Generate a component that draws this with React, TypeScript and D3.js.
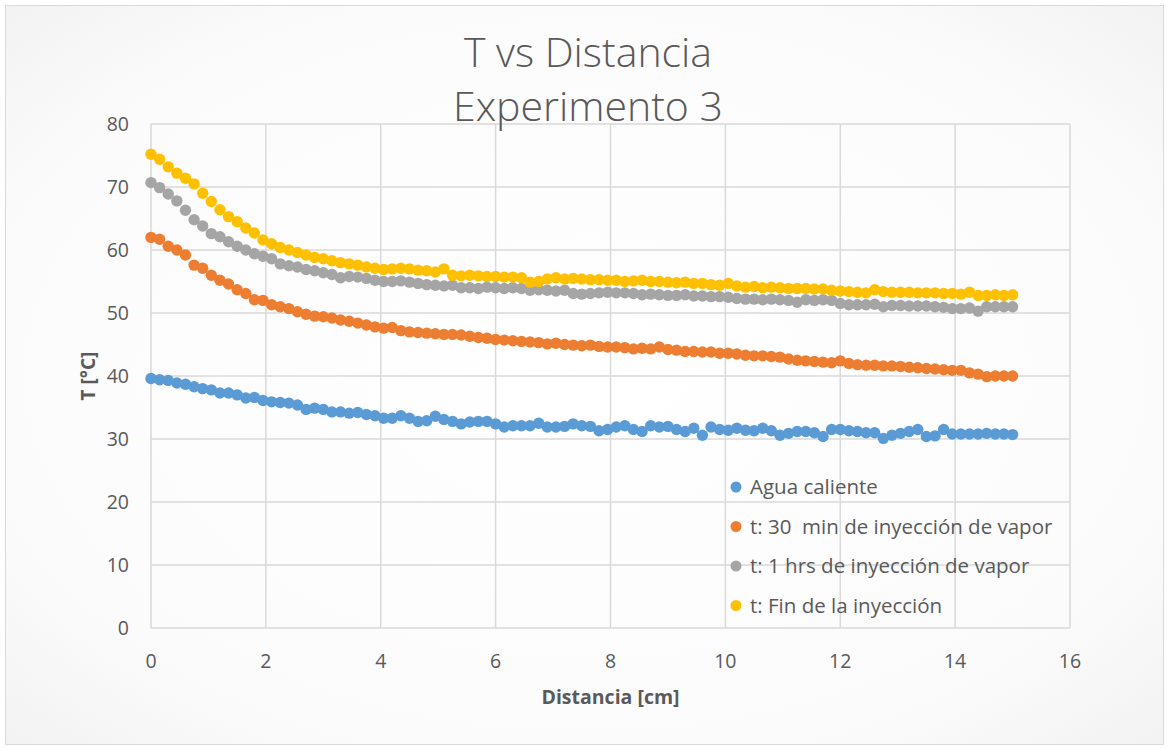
import React from "react";
import * as d3 from "d3";

// Distance samples along the column (cm), every 0.15 cm from 0 to 15
const distancia: number[] = d3.range(0, 101).map((i) => +(i * 0.15).toFixed(2));

const aguaCaliente: number[] = [
  39.6, 39.4, 39.3, 38.9, 38.7, 38.3, 38.0, 37.8, 37.3, 37.3,
  37.0, 36.5, 36.6, 36.1, 35.9, 35.8, 35.7, 35.4, 34.7, 34.9,
  34.7, 34.3, 34.3, 34.1, 34.2, 33.9, 33.7, 33.3, 33.3, 33.7,
  33.3, 32.8, 32.9, 33.6, 33.1, 32.8, 32.4, 32.7, 32.8, 32.8,
  32.4, 31.9, 32.1, 32.1, 32.1, 32.5, 31.9, 31.9, 32.0, 32.4,
  32.1, 32.0, 31.3, 31.5, 31.9, 32.1, 31.5, 31.2, 32.1, 31.9,
  32.0, 31.5, 31.2, 31.7, 30.6, 31.9, 31.5, 31.4, 31.7, 31.4,
  31.3, 31.7, 31.3, 30.6, 30.9, 31.2, 31.2, 31.0, 30.4, 31.5,
  31.5, 31.3, 31.2, 31.0, 31.0, 30.1, 30.6, 30.9, 31.2, 31.5,
  30.4, 30.5, 31.5, 30.8, 30.8, 30.8, 30.8, 30.9, 30.8, 30.8,
  30.7,
];

const min30: number[] = [
  62.0, 61.7, 60.6, 60.0, 59.2, 57.6, 57.1, 56.0, 55.2, 54.6,
  53.7, 53.1, 52.1, 52.0, 51.3, 51.0, 50.7, 50.2, 49.8, 49.5,
  49.4, 49.2, 48.9, 48.7, 48.4, 48.1, 47.8, 47.6, 47.7, 47.2,
  47.0, 46.9, 46.8, 46.7, 46.6, 46.6, 46.5, 46.3, 46.1, 46.0,
  45.8, 45.7, 45.6, 45.5, 45.4, 45.3, 45.1, 45.2, 45.0, 44.9,
  44.8, 44.9, 44.7, 44.6, 44.6, 44.5, 44.3, 44.4, 44.3, 44.6,
  44.2, 44.1, 43.9, 43.9, 43.8, 43.8, 43.6, 43.6, 43.5, 43.3,
  43.2, 43.2, 43.1, 43.0, 42.7, 42.5, 42.4, 42.3, 42.2, 42.1,
  42.4, 42.0, 41.8, 41.7, 41.7, 41.6, 41.6, 41.5, 41.4, 41.3,
  41.2, 41.1, 41.0, 40.9, 40.9, 40.5, 40.3, 39.9, 40.0, 40.0,
  40.0,
];

const hrs1: number[] = [
  70.7, 69.9, 68.9, 67.8, 66.3, 64.8, 63.8, 62.6, 62.1, 61.3,
  60.6, 60.0, 59.4, 59.0, 58.6, 57.8, 57.5, 57.3, 56.9, 56.7,
  56.4, 56.1, 55.6, 55.8, 55.7, 55.5, 55.2, 55.0, 55.0, 55.1,
  54.9, 54.7, 54.5, 54.4, 54.3, 54.4, 54.0, 54.0, 53.9, 54.1,
  54.0, 53.9, 54.0, 53.9, 53.6, 53.7, 53.6, 53.5, 53.6, 53.1,
  53.0, 53.1, 53.2, 53.3, 53.2, 53.2, 53.1, 52.9, 53.0, 52.9,
  52.8, 52.8, 52.9, 52.7, 52.7, 52.6, 52.6, 52.5, 52.3, 52.2,
  52.2, 52.1, 52.2, 52.1, 52.0, 51.7, 52.1, 52.0, 52.1, 52.0,
  51.5, 51.3, 51.3, 51.3, 51.4, 51.0, 51.2, 51.2, 51.1, 51.1,
  51.1, 51.0, 50.9, 50.7, 50.7, 50.8, 50.3, 51.0, 51.0, 51.0,
  51.0,
];

const finInyeccion: number[] = [
  75.2, 74.4, 73.2, 72.2, 71.4, 70.5, 69.0, 67.7, 66.4, 65.3,
  64.5, 63.5, 62.7, 61.6, 61.0, 60.4, 60.0, 59.6, 59.2, 58.8,
  58.6, 58.3, 58.0, 57.8, 57.6, 57.3, 57.1, 56.9, 57.0, 57.1,
  57.0, 56.8, 56.7, 56.5, 57.0, 56.0, 55.9, 56.0, 55.9, 55.8,
  55.8, 55.7, 55.7, 55.6, 54.9, 55.0, 55.4, 55.6, 55.4, 55.5,
  55.4, 55.3, 55.3, 55.2, 55.2, 55.0, 55.1, 55.2, 55.0, 55.0,
  54.9, 54.8, 54.9, 54.7, 54.7, 54.5, 54.4, 54.7, 54.3, 54.1,
  54.2, 54.0, 54.1, 54.0, 53.9, 53.9, 53.9, 53.8, 53.8, 53.6,
  53.5, 53.4, 53.3, 53.2, 53.7, 53.4, 53.3, 53.3, 53.3, 53.2,
  53.2, 53.2, 53.1, 53.1, 53.0, 53.3, 52.8, 52.8, 52.9, 52.8,
  52.9,
];

const seriesNames: string[] = [
  "Agua caliente",
  "t: 30  min de inyección de vapor",
  "t: 1 hrs de inyección de vapor",
  "t: Fin de la inyección",
];
const seriesColors: string[] = ["#5b9bd5", "#ed7d31", "#a5a5a5", "#ffc000"];
const seriesValues: number[][] = [aguaCaliente, min30, hrs1, finInyeccion];

const xTicks: number[] = [0, 2, 4, 6, 8, 10, 12, 14, 16];
const yTicks: number[] = [0, 10, 20, 30, 40, 50, 60, 70, 80];

const W = 1167;
const H = 748;
const plot = { left: 151, right: 1070, top: 124, bottom: 628 };
const FONT = "'Open Sans', 'Liberation Sans', sans-serif";
const TEXT = "#595959";
const GRID = "#d9d9d9";
const R = 5.7;

export default function App() {
  const x = d3.scaleLinear().domain([0, 16]).range([plot.left, plot.right]);
  const y = d3.scaleLinear().domain([0, 80]).range([plot.bottom, plot.top]);

  const legendX = 736;
  const legendY0 = 487;
  const legendStep = 39.5;

  return (
    <svg
      width={W}
      height={H}
      style={{ position: "absolute", left: 0, top: 0, fontFamily: FONT }}
    >
      <defs>
        <radialGradient id="bg" cx="50%" cy="50%" r="75%">
          <stop offset="0%" stopColor="#ffffff" />
          <stop offset="70%" stopColor="#fbfbfb" />
          <stop offset="100%" stopColor="#f0f0f0" />
        </radialGradient>
      </defs>
      <rect x={0} y={0} width={W} height={H} fill="#ffffff" />
      <rect x={5.5} y={5.5} width={W - 9} height={H - 9} fill="url(#bg)" stroke="#d9d9d9" strokeWidth={1} />

      {/* gridlines */}
      {yTicks.map((t) => (
        <line key={"gy" + t} x1={plot.left} x2={plot.right} y1={y(t)} y2={y(t)} stroke={GRID} strokeWidth={1.5} />
      ))}
      {xTicks.map((t) => (
        <line key={"gx" + t} x1={x(t)} x2={x(t)} y1={plot.top} y2={plot.bottom} stroke={GRID} strokeWidth={1.5} />
      ))}

      {/* tick labels */}
      {yTicks.map((t) => (
        <text key={"ty" + t} x={plot.left - 22} y={y(t)} dy="0.35em" textAnchor="end" fontSize={19.5} fill={TEXT}>
          {t}
        </text>
      ))}
      {xTicks.map((t) => (
        <text key={"tx" + t} x={x(t)} y={plot.bottom + 40} textAnchor="middle" fontSize={19.5} fill={TEXT}>
          {t}
        </text>
      ))}

      {/* axis titles */}
      <text
        transform={`translate(95, ${(plot.top + plot.bottom) / 2}) rotate(-90)`}
        textAnchor="middle"
        fontSize={19}
        fontWeight="bold"
        fill={TEXT}
      >
        T [°C]
      </text>
      <text x={(plot.left + plot.right) / 2} y={704} textAnchor="middle" fontSize={19.5} fontWeight="bold" fill={TEXT}>
        Distancia [cm]
      </text>

      {/* title */}
      <text x={588} y={67} textAnchor="middle" fontSize={41} fontWeight={300} fill={TEXT}>
        T vs Distancia
      </text>
      <text x={588} y={121} textAnchor="middle" fontSize={41} fontWeight={300} fill={TEXT}>
        Experimento 3
      </text>

      {/* scatter markers */}
      {seriesValues.map((vals, si) => (
        <g key={"s" + si}>
          {vals.map((v, i) => (
            <circle key={i} cx={x(distancia[i])} cy={y(v)} r={R} fill={seriesColors[si]} />
          ))}
        </g>
      ))}

      {/* legend */}
      {seriesNames.map((name, i) => (
        <g key={"l" + i} transform={`translate(${legendX}, ${legendY0 + i * legendStep})`}>
          <circle cx={0} cy={0} r={5.5} fill={seriesColors[i]} />
          <text x={14} y={0} dy="0.35em" fontSize={20.5} fill={TEXT} style={{ whiteSpace: "pre" }}>
            {name}
          </text>
        </g>
      ))}
    </svg>
  );
}
